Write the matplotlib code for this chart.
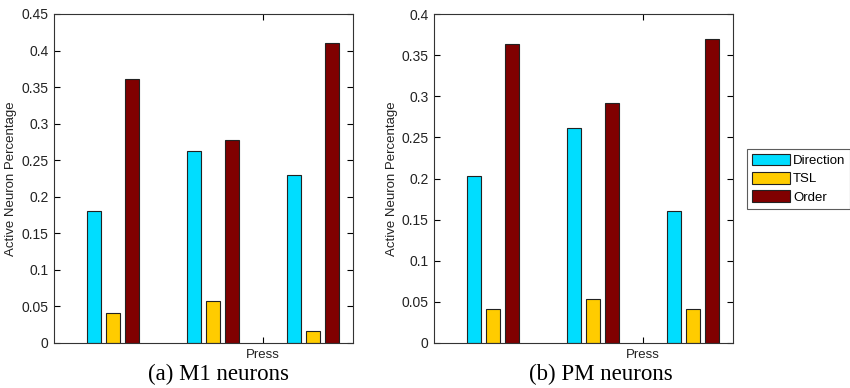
import matplotlib
matplotlib.use("Agg")
import matplotlib.pyplot as plt
import numpy as np

groups = [1, 2, 3]
series = ["Direction", "TSL", "Order"]
colors = ["#00DDFF", "#FFCC00", "#800000"]

m1_direction = [0.181, 0.262, 0.230]
m1_tsl = [0.041, 0.057, 0.016]
m1_order = [0.361, 0.278, 0.410]

pm_direction = [0.203, 0.261, 0.160]
pm_tsl = [0.041, 0.053, 0.041]
pm_order = [0.363, 0.292, 0.370]

m1_yticks = [0, 0.05, 0.1, 0.15, 0.2, 0.25, 0.3, 0.35, 0.4, 0.45]
m1_yticklabels = ["0", "0.05", "0.1", "0.15", "0.2", "0.25", "0.3", "0.35", "0.4", "0.45"]
pm_yticks = [0, 0.05, 0.1, 0.15, 0.2, 0.25, 0.3, 0.35, 0.4]
pm_yticklabels = ["0", "0.05", "0.1", "0.15", "0.2", "0.25", "0.3", "0.35", "0.4"]
xtick_pos = [2.5]
xtick_labels = ["Press"]

plt.rcParams['font.family'] = ['Liberation Sans', 'DejaVu Sans']

fig = plt.figure(figsize=(8.5, 3.88), dpi=100)
W, H = 850, 388
ax1 = fig.add_axes([54 / W, 1 - 343 / H, 299 / W, 329 / H])
ax2 = fig.add_axes([434 / W, 1 - 343 / H, 299 / W, 329 / H])

offsets = [-0.19, 0.0, 0.19]
bw = 0.145


def draw(ax, data, yticks, yticklabels, ymax, label_x_px, ax_left_px):
    x = np.array(groups, dtype=float)
    for off, vals, c, name in zip(offsets, data, colors, series):
        ax.bar(x + off, vals, bw, color=c, edgecolor="#222222", linewidth=0.8, label=name)
    ax.set_xlim(0.41, 3.4)
    ax.set_ylim(0, ymax)
    ax.set_yticks(yticks)
    ax.set_yticklabels(yticklabels, fontsize=10, color="#222222")
    ax.set_xticks(xtick_pos)
    ax.set_xticklabels(xtick_labels, fontsize=9.5, color="#222222")
    ax.tick_params(direction="in", top=True, right=True, length=4, width=0.8, pad=4)
    for s in ax.spines.values():
        s.set_linewidth(0.8)
        s.set_color("#333333")
    ax.set_ylabel("Active Neuron Percentage", fontsize=9.5, color="#222222")
    ax.yaxis.set_label_coords((label_x_px - ax_left_px) / 299, 0.5)


draw(ax1, [m1_direction, m1_tsl, m1_order], m1_yticks, m1_yticklabels, 0.45, 17, 54)
draw(ax2, [pm_direction, pm_tsl, pm_order], pm_yticks, pm_yticklabels, 0.4, 398, 434)

leg = ax2.legend(loc="upper left", bbox_to_anchor=(747 / W, 1 - 149 / H), bbox_transform=fig.transFigure,
                 fontsize=9.5, frameon=True, fancybox=False, edgecolor="#333333",
                 handlelength=2.9, handleheight=1.0, handletextpad=0.25, labelspacing=0.38,
                 borderpad=0.35, borderaxespad=0)
leg.get_frame().set_linewidth(0.8)

fig.text(218 / W, 1 - 374 / H, "(a) M1 neurons", ha="center", va="center",
         fontsize=16.5, family=["Liberation Serif", "DejaVu Serif"])
fig.text(601 / W, 1 - 374 / H, "(b) PM neurons", ha="center", va="center",
         fontsize=16.5, family=["Liberation Serif", "DejaVu Serif"])

fig.savefig("out.png", dpi=100)
